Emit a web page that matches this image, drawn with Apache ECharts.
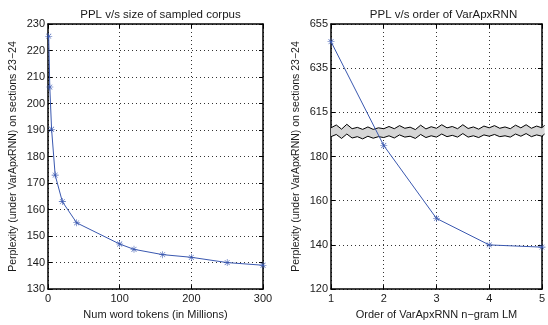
<!DOCTYPE html>
<html>
<head>
<meta charset="utf-8">
<script src="https://cdn.jsdelivr.net/npm/echarts@6/dist/echarts.min.js"></script>
<style>html,body{margin:0;padding:0;background:#fff}#c{width:548px;height:325px}</style>
</head>
<body>
<div id="c"></div>
<script>
// ---- Data ----
const corpusSize = [1, 2.5, 5, 10, 20, 40, 100, 120, 160, 200, 250, 300];
const corpusPPL  = [225.4, 206.2, 190.3, 173, 163, 155, 147, 145, 143, 142, 140, 139];
const ngramOrder = [1, 2, 3, 4, 5];
const orderPPL   = [647, 185, 152, 140, 139];
const leftXTicks = [0, 100, 200, 300];
const leftYTicks = [130, 140, 150, 160, 170, 180, 190, 200, 210, 220, 230];
const rightYTickLabels = [120, 140, 160, 180, 615, 635, 655];
// broken axis: values above the break are shifted down by this offset
const breakOffset = 415;
// zig-zag break band edges (lower-segment units)
const bandX = [1.00,1.10,1.20,1.30,1.40,1.50,1.60,1.70,1.80,1.90,2.00,2.10,2.20,2.30,2.40,2.50,2.60,2.70,2.80,2.90,3.00,3.10,3.20,3.30,3.40,3.50,3.60,3.70,3.80,3.90,4.00,4.10,4.20,4.30,4.40,4.50,4.60,4.70,4.80,4.90,5.00,5.05];
const bandTop = [193.0,194.3,192.4,194.6,192.6,193.2,192.3,193.4,192.3,193.0,192.6,193.6,192.6,194.0,192.8,193.3,192.2,194.2,192.5,193.5,192.8,194.4,193.0,193.6,192.6,194.4,192.7,193.4,192.4,193.8,193.0,194.0,192.8,193.4,192.6,194.2,193.0,194.4,192.8,193.8,193.0,194.2];
const bandBot = [189.0,190.0,188.2,190.2,188.4,189.0,188.0,189.2,188.3,189.0,188.6,189.4,188.4,189.8,188.8,189.2,188.2,190.0,188.6,189.4,188.8,190.2,189.0,189.6,188.8,190.4,188.8,189.4,188.6,189.8,189.2,190.0,189.0,189.4,188.8,190.2,189.2,190.4,189.0,189.8,189.2,190.2];

const toAxis = v => v > 400 ? v - breakOffset : v;
const fromAxis = v => v >= 200 ? v + breakOffset : v;

const FONT = '"Liberation Sans", Arial, Helvetica, sans-serif';
const TXT = '#1a1a1a';
const LINE = '#3a58b0';
const STAR = 'path://M9.2,0L10.8,0L10.8,20L9.2,20ZM0,9.2L20,9.2L20,10.8L0,10.8ZM2.4,3.5L3.5,2.4L17.6,16.5L16.5,17.6ZM16.5,2.4L17.6,3.5L3.5,17.6L2.4,16.5Z';

const chart = echarts.init(document.getElementById('c'), null, {renderer: 'canvas'});

const gridBox = [
  {left: 48, top: 24, width: 215, height: 274},
  {left: 331, top: 24, width: 215, height: 274}
];

function mainX(gi, min, max, interval, name) {
  return {
    type: 'value', gridIndex: gi, min, max, interval, position: 'bottom',
    name, nameLocation: 'middle', nameGap: 18,
    nameTextStyle: {fontFamily: FONT, fontSize: 11, color: TXT},
    axisLine: {show: true, onZero: false, lineStyle: {color: '#000', width: 1.5}},
    axisTick: {show: true, inside: true, length: 4, lineStyle: {color: '#000'}},
    axisLabel: {fontFamily: FONT, fontSize: 11, color: TXT, margin: 4, showMinLabel: true, showMaxLabel: true},
    splitLine: {show: true, lineStyle: {color: '#333', type: [1, 3], width: 1}}
  };
}
function sideX(gi, min, max, interval) {
  return {
    type: 'value', gridIndex: gi, min, max, interval, position: 'top',
    axisLine: {show: true, onZero: false, lineStyle: {color: '#000', width: 1.5}},
    axisTick: {show: true, inside: true, length: 4, lineStyle: {color: '#000'}},
    axisLabel: {show: false}, splitLine: {show: false}
  };
}
function mainY(gi, min, max, interval, fmt) {
  return {
    type: 'value', gridIndex: gi, min, max, interval, position: 'left',
    name: 'Perplexity (under VarApxRNN) on sections 23\u221224',
    nameLocation: 'middle', nameGap: 29, nameRotate: 90,
    nameTextStyle: {fontFamily: FONT, fontSize: 10.5, color: TXT},
    axisLine: {show: true, onZero: false, lineStyle: {color: '#000', width: 1.5}},
    axisTick: {show: true, inside: true, length: 4, lineStyle: {color: '#000'}},
    axisLabel: {fontFamily: FONT, fontSize: 11, color: TXT, margin: 3, formatter: fmt, showMinLabel: true, showMaxLabel: true},
    splitLine: {show: true, lineStyle: {color: '#333', type: [1, 3], width: 1}}
  };
}
function sideY(gi, min, max, interval) {
  return {
    type: 'value', gridIndex: gi, min, max, interval, position: 'right',
    axisLine: {show: true, onZero: false, lineStyle: {color: '#000', width: 1.5}},
    axisTick: {show: true, inside: true, length: 4, lineStyle: {color: '#000'}},
    axisLabel: {show: false}, splitLine: {show: false}
  };
}

const option = {
  animation: false,
  backgroundColor: '#fff',
  title: [
    {text: 'PPL v/s size of sampled corpus', left: 155.5, top: 4, textAlign: 'center',
     textStyle: {fontFamily: FONT, fontSize: 11.5, fontWeight: 'normal', color: TXT}},
    {text: 'PPL v/s order of VarApxRNN', left: 438.5, top: 4, textAlign: 'center',
     textStyle: {fontFamily: FONT, fontSize: 11.5, fontWeight: 'normal', color: TXT}}
  ],
  grid: gridBox,
  xAxis: [
    mainX(0, leftXTicks[0], leftXTicks[leftXTicks.length - 1], 100, 'Num word tokens (in Millions)'),
    mainX(1, 1, 5, 1, 'Order of VarApxRNN n\u2212gram LM'),
    sideX(0, 0, 300, 100),
    sideX(1, 1, 5, 1)
  ],
  yAxis: [
    mainY(0, leftYTicks[0], leftYTicks[leftYTicks.length - 1], 10),
    mainY(1, toAxis(rightYTickLabels[0]), toAxis(rightYTickLabels[rightYTickLabels.length - 1]), 20, v => String(fromAxis(v))),
    sideY(0, 130, 230, 10),
    sideY(1, 120, 240, 20)
  ],
  series: [
    {
      type: 'line', xAxisIndex: 0, yAxisIndex: 0, z: 5,
      data: corpusSize.map((x, i) => [x, corpusPPL[i]]),
      symbol: STAR, symbolSize: 7,
      lineStyle: {color: LINE, width: 1}, itemStyle: {color: LINE}
    },
    {
      type: 'custom', xAxisIndex: 1, yAxisIndex: 1, z: 3, clip: false,
      data: [[0]],
      renderItem: function (params, api) {
        const pts = [];
        for (let i = 0; i < bandX.length; i++) pts.push(api.coord([bandX[i], bandTop[i]]));
        const bot = [];
        for (let i = 0; i < bandX.length; i++) bot.push(api.coord([bandX[i], bandBot[i]]));
        return {
          type: 'group',
          children: [
            {type: 'polygon', shape: {points: pts.concat(bot.slice().reverse())}, style: {fill: '#d6d6d6', stroke: null}},
            {type: 'polyline', shape: {points: pts}, style: {stroke: '#000', lineWidth: 1, fill: null}},
            {type: 'polyline', shape: {points: bot}, style: {stroke: '#000', lineWidth: 1, fill: null}}
          ]
        };
      }
    },
    {
      type: 'line', xAxisIndex: 1, yAxisIndex: 1, z: 5,
      data: ngramOrder.map((x, i) => [x, toAxis(orderPPL[i])]),
      symbol: STAR, symbolSize: 7,
      lineStyle: {color: LINE, width: 1}, itemStyle: {color: LINE}
    }
  ]
};
chart.setOption(option);
</script>
</body>
</html>
